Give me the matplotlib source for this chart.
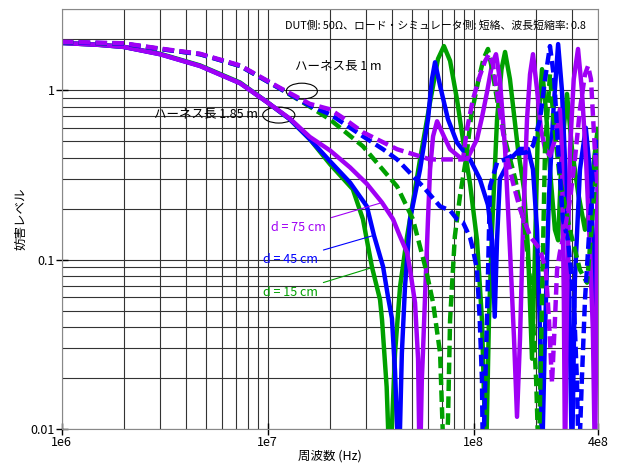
import matplotlib
matplotlib.use('Agg')
import matplotlib.pyplot as plt
from matplotlib.patches import Ellipse

plt.rcParams['font.family'] = ['Noto Sans CJK JP', 'DejaVu Sans']

# frequency in MHz and level
# harness 1.85 m (solid)
green_solid_f = [1, 1.53, 2, 3, 4.69, 7.34, 9.94, 12.8, 16, 20.1, 25.9, 29, 32.1, 35.1, 35.9, 37.8, 38.4,
                 38.9, 40.1, 41.5, 43.9, 47.5, 54.9, 61.4, 67.1, 71.7, 76.8, 83, 88.7, 96, 103.8, 109.7,
                 114.7, 118.6, 122.8, 129.8, 136.5, 142, 150, 164, 175.5, 183.5, 191.9, 198.5, 205,
                 214.6, 224, 234.6, 248, 257, 268, 283.8, 300, 321, 347, 367, 385, 400]
green_solid_v = [1.90, 1.85, 1.80, 1.64, 1.40, 1.11, 0.85, 0.674, 0.514, 0.365, 0.26, 0.173, 0.09, 0.058, 0.044, 0.0177, 0.0103,
                 0.006, 0.0103, 0.028, 0.069, 0.137, 0.39, 0.85, 1.53, 1.82, 1.49, 0.88, 0.51, 0.28, 0.13, 0.044,
                 0.006, 0.044, 0.15, 0.67, 1.33, 1.68, 1.16, 0.45, 0.26, 0.115, 0.026, 0.115, 0.59,
                 1.33, 0.77, 0.34, 0.15, 0.13, 0.45, 0.95, 0.45, 0.25, 0.15, 0.2, 0.4, 0.59]

blue_solid_f = [1, 1.53, 2, 3, 4.69, 7.34, 9.94, 12.8, 16, 20.1, 25.1, 30.3, 32.8, 36.3, 38.4, 40.1, 41.5,
                42.5, 43.2, 43.9, 44.8, 46.4, 49.1, 54.9, 60, 62.7, 64.9, 68.7, 75, 83, 96, 107, 117.3,
                122.8, 126.5, 129.8, 134, 150, 168, 183.5, 194, 203, 209.8, 214.6, 222, 231.6, 244,
                257, 268, 280, 290, 300, 310, 328, 350, 370, 388, 394, 400]
blue_solid_v = [1.90, 1.85, 1.80, 1.63, 1.39, 1.10, 0.849, 0.674, 0.514, 0.38, 0.285, 0.206, 0.139, 0.091, 0.06, 0.045, 0.022,
                0.0103, 0.006, 0.0103, 0.028, 0.069, 0.173, 0.34, 0.674, 1.16, 1.46, 1.06, 0.674, 0.49, 0.39, 0.30, 0.21,
                0.13, 0.046, 0.13, 0.30, 0.39, 0.45, 0.45, 0.34, 0.15, 0.038, 0.006, 0.038, 0.227, 0.77,
                1.87, 1.01, 0.30, 0.076, 0.006, 0.076, 0.34, 0.6, 0.3, 0.06, 0.025, 0.1]

purple_solid_f = [1, 1.53, 2, 3, 4.69, 7.34, 9.94, 12.8, 16, 20.1, 25.1, 30.3, 35.9, 40.6, 43.9, 47.5,
                  49.1, 51.9, 53.7, 54.3, 54.9, 56, 56.7, 58.7, 60, 61.4, 63.5, 66.4, 71.7, 76.8, 85.9,
                  92.8, 103.8, 109.7, 116, 122.8, 128.3, 134, 142, 150, 157, 162.3, 167.8, 173.5,
                  181.5, 187.7, 194, 203, 212, 222, 234.6, 248, 262, 268, 274, 277.5, 283.8, 293.5,
                  306, 321, 335, 351, 367, 379, 388, 395, 400]
purple_solid_v = [1.90, 1.85, 1.80, 1.63, 1.39, 1.10, 0.849, 0.68, 0.53, 0.44, 0.35, 0.28, 0.217, 0.173, 0.137, 0.11,
                  0.087, 0.0557, 0.026, 0.0103, 0.006, 0.0195, 0.028, 0.087, 0.173, 0.34, 0.534, 0.655, 0.534, 0.448, 0.40,
                  0.39, 0.514, 0.69, 0.97, 1.42, 1.63, 1.16, 0.45, 0.115, 0.034, 0.0118, 0.034, 0.15,
                  0.674, 1.24, 1.63, 1.01, 0.59, 0.45, 0.41, 0.51, 0.77, 0.45, 0.058, 0.006, 0.058, 0.45,
                  1.16, 1.75, 1.01, 0.39, 0.115, 0.038, 0.006, 0.058, 0.49]

# harness 1 m (dashed)
green_dash_f = [1, 2, 3, 4.69, 7.34, 11.5, 16, 20.1, 29, 42.5, 50.7, 58.7, 63.5, 68.7, 71.7, 75, 76.8,
                81, 85.9, 91.7, 97.5, 105.7, 111.6, 117.3, 122.8, 129.8, 142, 159, 177.5, 192, 201,
                207, 214.6, 222, 234.6, 244, 262, 293, 328, 355, 373, 400]
green_dash_v = [1.92, 1.88, 1.75, 1.63, 1.39, 1.02, 0.80, 0.67, 0.466, 0.27, 0.173, 0.087, 0.0557, 0.028, 0.006, 0.011, 0.044,
                0.137, 0.24, 0.39, 0.72, 1.16, 1.53, 1.75, 1.33, 0.88, 0.51, 0.30, 0.15, 0.058, 0.0195,
                0.006, 0.058, 0.45, 1.24, 0.67, 0.30, 0.15, 0.087, 0.073, 0.15, 0.45]

blue_dash_f = [1, 2, 3, 4.69, 7.34, 11.5, 16, 20.1, 29, 36.3, 42.5, 56.7, 68.7, 76.8, 83, 88.7, 96,
               99.2, 103.8, 107, 109.7, 110.9, 116, 120, 130, 142, 159, 181.5, 194, 209.8, 222, 234.6,
               246, 257, 271, 287, 306, 317, 324, 335, 347, 367, 388, 400]
blue_dash_v = [1.92, 1.88, 1.75, 1.63, 1.39, 1.02, 0.81, 0.72, 0.534, 0.448, 0.39, 0.27, 0.206, 0.195, 0.173, 0.166, 0.135,
               0.115, 0.087, 0.044, 0.0195, 0.006, 0.044, 0.27, 0.375, 0.39, 0.42, 0.43, 0.47, 0.67, 1.16, 1.82,
               1.16, 0.45, 0.173, 0.13, 0.058, 0.0195, 0.006, 0.0195, 0.058, 0.173, 0.39, 0.51]

purple_dash_f = [1, 2, 3, 4.69, 7.34, 11.5, 16, 20.1, 23.7, 29, 42.5, 61.4, 88.7, 92.8, 99.2, 107, 113.4,
                 118.6, 124, 131.5, 138, 146, 155, 168, 188, 210, 224, 232, 240, 248, 254, 262, 277,
                 293.5, 310, 328, 347, 359, 371, 388, 400]
purple_dash_v = [1.93, 1.89, 1.76, 1.64, 1.40, 1.03, 0.83, 0.77, 0.674, 0.564, 0.448, 0.39, 0.39, 0.588, 0.884, 1.21, 1.48,
                 1.63, 1.42, 0.88, 0.59, 0.39, 0.285, 0.198, 0.137, 0.115, 0.087, 0.044, 0.0187, 0.044, 0.087, 0.11, 0.15,
                 0.227, 0.39, 0.77, 1.24, 1.39, 1.16, 0.43, 0.26]

green = '#00a000'
blue = '#0000ff'
purple = '#a000f5'

fig = plt.figure(figsize=(6.19, 4.66), dpi=100)
ax = fig.add_axes([0.0997, 0.0794, 0.8659, 0.9006])

mhz = 1e6
lw = 3.2
ax.plot([f * mhz for f in green_solid_f], green_solid_v, color=green, lw=lw)
ax.plot([f * mhz for f in blue_solid_f], blue_solid_v, color=blue, lw=lw)
ax.plot([f * mhz for f in purple_solid_f], purple_solid_v, color=purple, lw=lw)
dash = (0, (2.6, 1.2))
ax.plot([f * mhz for f in green_dash_f], green_dash_v, color=green, lw=lw, ls=dash)
ax.plot([f * mhz for f in blue_dash_f], blue_dash_v, color=blue, lw=lw, ls=dash)
ax.plot([f * mhz for f in purple_dash_f], purple_dash_v, color=purple, lw=lw, ls=dash)

ax.set_xscale('log')
ax.set_yscale('log')
ax.set_xlim(1e6, 4e8)
ax.set_ylim(0.01, 3)

ax.set_xticks([1e6, 1e7, 1e8, 4e8])
ax.set_xticklabels(['1e6', '1e7', '1e8', '4e8'])
ax.set_yticks([0.01, 0.1, 1])
ax.set_yticklabels(['0.01', '0.1', '1'])
ax.tick_params(which='major', direction='inout', length=8, width=1, labelsize=9, pad=1)
ax.tick_params(which='minor', length=0)
ax.grid(True, which='both', color='#333333', lw=0.8)
ax.set_axisbelow(True)
for s in ax.spines.values():
    s.set_color('#888888')

ax.set_xlabel('周波数 (Hz)', fontsize=9, labelpad=0.5)
ax.set_ylabel('妨害レベル', fontsize=9, labelpad=2)

ax.text(352e6, 2.42, 'DUT側: 50Ω、ロード・シミュレータ側: 短絡、波長短縮率: 0.8',
        ha='right', va='center', fontsize=7.8)
ax.text(13.6e6, 1.39, 'ハーネス長 1 m', ha='left', va='center', fontsize=9)
ax.text(8.97e6, 0.721, 'ハーネス長 1.85 m', ha='right', va='center', fontsize=9)
ax.add_patch(Ellipse((0.448, 0.805), 0.058, 0.038, transform=ax.transAxes,
                     fill=False, ec='black', lw=0.8))
ax.add_patch(Ellipse((0.405, 0.748), 0.060, 0.038, transform=ax.transAxes,
                     fill=False, ec='black', lw=0.8))

ax.annotate('d = 75 cm', xy=(35.9e6, 0.217), xytext=(10.4e6, 0.155), color=purple, fontsize=9,
            va='center', arrowprops=dict(arrowstyle='-', color=purple, lw=0.8, shrinkA=2, shrinkB=0))
ax.annotate('d = 45 cm', xy=(32.8e6, 0.139), xytext=(9.5e6, 0.1), color=blue, fontsize=9,
            va='center', arrowprops=dict(arrowstyle='-', color=blue, lw=0.8, shrinkA=2, shrinkB=0))
ax.annotate('d = 15 cm', xy=(32.1e6, 0.0897), xytext=(9.5e6, 0.0638), color=green, fontsize=9,
            va='center', arrowprops=dict(arrowstyle='-', color=green, lw=0.8, shrinkA=2, shrinkB=0))

fig.savefig('out.png', dpi=100)
